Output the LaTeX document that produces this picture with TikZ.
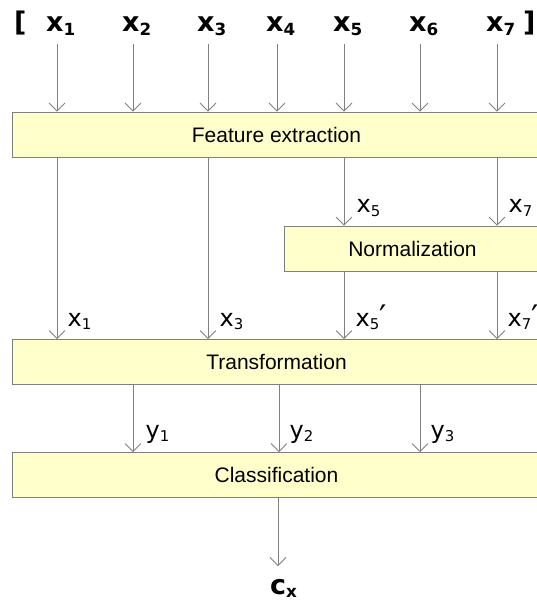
\documentclass[tikz,border=0pt]{standalone}
\usepackage{fontspec}
\setmainfont{Liberation Sans}
\newfontfamily\lblfont{DejaVu Sans}
\usepackage{graphicx}
\usetikzlibrary{arrows.meta}
\definecolor{boxfill}{HTML}{FFFFCC}
\definecolor{linegray}{HTML}{808080}
\newcommand{\sbs}[1]{\raisebox{-0.13em}{\scalebox{0.62}{#1}}}
\newcommand{\prm}{\raisebox{-0.1em}{\scalebox{1.35}{′}}}

\begin{document}
\begin{tikzpicture}[x=1pt,y=-1pt]
	\tikzstyle{block}=[draw=linegray,fill=boxfill,line width=0.8pt,minimum height=45pt,inner sep=0pt,font=\fontsize{21}{25}\selectfont]
	\tikzstyle{flow}=[draw=linegray,line width=0.8pt,-{Straight Barb[length=8pt,width=16pt]}]
	\tikzstyle{inlbl}=[anchor=base west,inner sep=0pt,font=\fontsize{27}{32}\selectfont\lblfont\bfseries]
	\tikzstyle{lbl}=[anchor=base west,inner sep=0pt,font=\fontsize{24}{28}\selectfont\lblfont]
	\useasboundingbox (0,0) rectangle (536,601);
	\node[block,minimum width=529pt] (fe) at (276.5,134.5) {Feature extraction};
	\node[block,minimum width=257pt] (nm) at (412.5,248.5) {Normalization};
	\node[block,minimum width=529pt] (tr) at (276.5,362) {Transformation};
	\node[block,minimum width=529pt] (cl) at (276.5,475) {Classification};
	\node[inlbl] (lb) at (14,32) {[};
	\node[inlbl] (x1) at (46,32) {x\sbs{1}};
	\node[inlbl] (x2) at (122,32) {x\sbs{2}};
	\node[inlbl] (x3) at (197,32) {x\sbs{3}};
	\node[inlbl] (x4) at (266,32) {x\sbs{4}};
	\node[inlbl] (x5) at (333,32) {x\sbs{5}};
	\node[inlbl] (x6) at (409,32) {x\sbs{6}};
	\node[inlbl] (x7) at (486,32) {x\sbs{7}};
	\node[inlbl] (rb) at (523,32) {]};
	\coordinate (s1) at (57,44);
	\coordinate (s2) at (133,44);
	\coordinate (s3) at (208,44);
	\coordinate (s4) at (277,44);
	\coordinate (s5) at (344,44);
	\coordinate (s6) at (420,44);
	\coordinate (s7) at (497,44);
	\draw[flow] (s1) -- (s1 |- fe.north);
	\draw[flow] (s2) -- (s2 |- fe.north);
	\draw[flow] (s3) -- (s3 |- fe.north);
	\draw[flow] (s4) -- (s4 |- fe.north);
	\draw[flow] (s5) -- (s5 |- fe.north);
	\draw[flow] (s6) -- (s6 |- fe.north);
	\draw[flow] (s7) -- (s7 |- fe.north);
	\draw[flow] (fe.south -| s5) -- (nm.north -| s5);
	\draw[flow] (fe.south -| s7) -- (nm.north -| s7);
	\node[lbl] (n5) at (356.5,213) {x\sbs{5}};
	\node[lbl] (n7) at (508.5,213) {x\sbs{7}};
	\draw[flow] (fe.south -| s1) -- (tr.north -| s1);
	\draw[flow] (fe.south -| s3) -- (tr.north -| s3);
	\draw[flow] (nm.south -| s5) -- (tr.north -| s5);
	\draw[flow] (nm.south -| s7) -- (tr.north -| s7);
	\node[lbl] (t1) at (67.5,326) {x\sbs{1}};
	\node[lbl] (t3) at (219.5,326) {x\sbs{3}};
	\node[lbl] (t5) at (355.5,326) {x\sbs{5}\prm};
	\node[lbl] (t7) at (507.5,326) {x\sbs{7}\prm};
	\coordinate (c1) at (133,400);
	\coordinate (c2) at (279,400);
	\coordinate (c3) at (420,400);
	\draw[flow] (tr.south -| c1) -- (cl.north -| c1);
	\draw[flow] (tr.south -| c2) -- (cl.north -| c2);
	\draw[flow] (tr.south -| c3) -- (cl.north -| c3);
	\node[lbl] (y1) at (145.5,438) {y\sbs{1}};
	\node[lbl] (y2) at (289.5,438) {y\sbs{2}};
	\node[lbl] (y3) at (430.5,438) {y\sbs{3}};
	\coordinate (out) at (278,566);
	\draw[flow] (cl.south -| out) -- (out);
	\node[inlbl] (cx) at (270,594) {c\sbs{x}};
\end{tikzpicture}
\end{document}
